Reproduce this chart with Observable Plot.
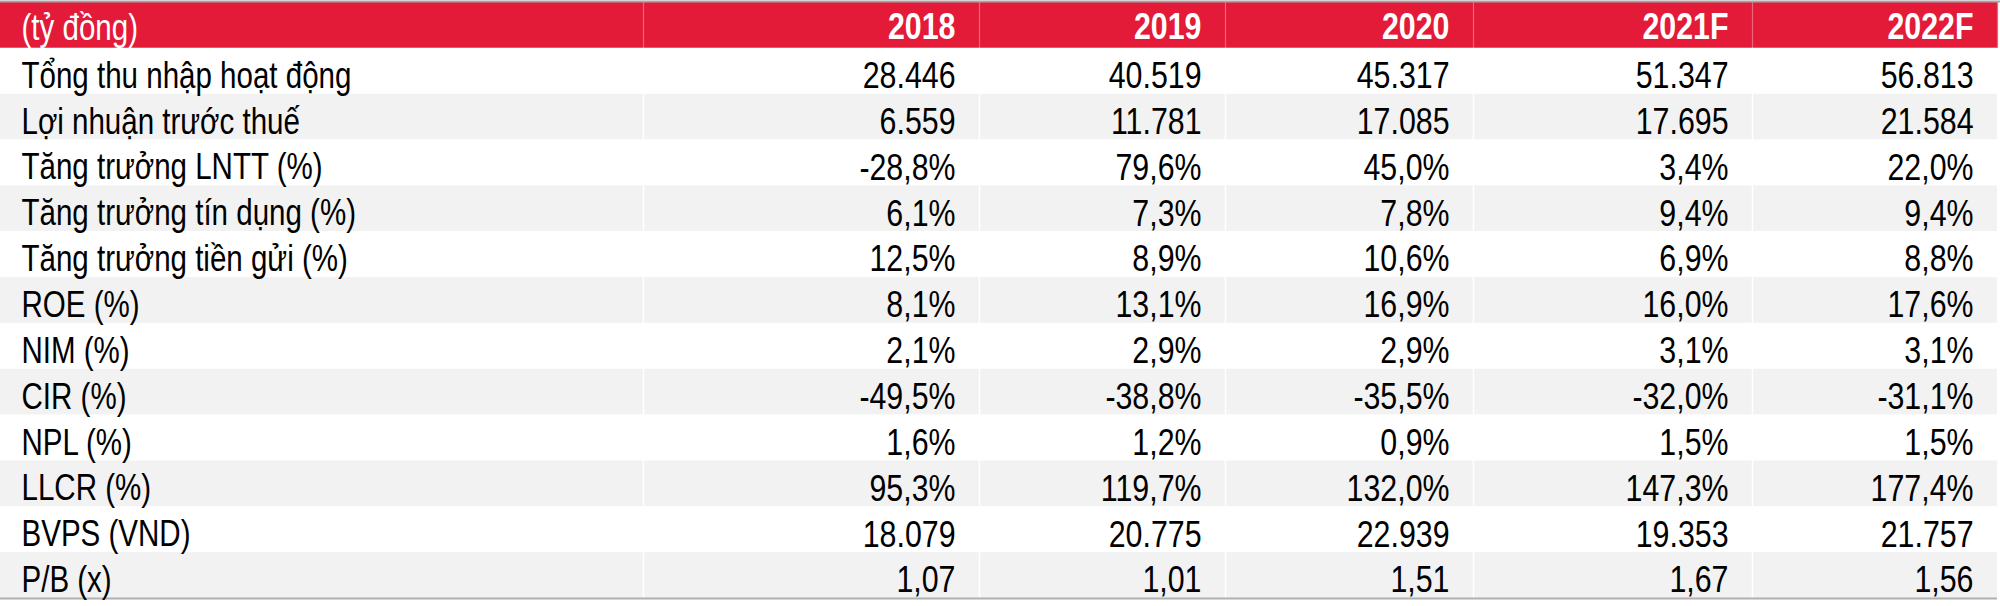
<!DOCTYPE html>
<html>
<head>
<meta charset="utf-8">
<script src="https://cdn.jsdelivr.net/npm/d3@7"></script>
<script src="https://cdn.jsdelivr.net/npm/@observablehq/plot@0.6"></script>
<style>
  html, body { margin: 0; padding: 0; background: #fff; }
  #chart svg { display: block; }
</style>
</head>
<body>
<div id="chart"></div>
<script>
// ---- data ----
const headerLabel = "(tỷ đồng)";
const years = ["2018", "2019", "2020", "2021F", "2022F"];
const rowLabels = [
  "Tổng thu nhập hoạt động",
  "Lợi nhuận trước thuế",
  "Tăng trưởng LNTT (%)",
  "Tăng trưởng tín dụng (%)",
  "Tăng trưởng tiền gửi (%)",
  "ROE (%)",
  "NIM (%)",
  "CIR (%)",
  "NPL (%)",
  "LLCR (%)",
  "BVPS (VND)",
  "P/B (x)"
];
const rowFormats = ["int", "int", "pct", "pct", "pct", "pct", "pct", "pct", "pct", "pct", "int", "x"];
const tongThuNhap = [28446, 40519, 45317, 51347, 56813];
const loiNhuan = [6559, 11781, 17085, 17695, 21584];
const tangTruongLNTT = [-28.8, 79.6, 45.0, 3.4, 22.0];
const tangTruongTinDung = [6.1, 7.3, 7.8, 9.4, 9.4];
const tangTruongTienGui = [12.5, 8.9, 10.6, 6.9, 8.8];
const roe = [8.1, 13.1, 16.9, 16.0, 17.6];
const nim = [2.1, 2.9, 2.9, 3.1, 3.1];
const cir = [-49.5, -38.8, -35.5, -32.0, -31.1];
const npl = [1.6, 1.2, 0.9, 1.5, 1.5];
const llcr = [95.3, 119.7, 132.0, 147.3, 177.4];
const bvps = [18079, 20775, 22939, 19353, 21757];
const pb = [1.07, 1.01, 1.51, 1.67, 1.56];
const series = [tongThuNhap, loiNhuan, tangTruongLNTT, tangTruongTinDung, tangTruongTienGui,
                roe, nim, cir, npl, llcr, bvps, pb];

// ---- layout (column edges in px) ----
const colEdges = [0, 643, 979, 1225, 1473, 1752, 1997];
const W = 2000, H = 606;

// ---- formatting (Vietnamese) ----
const vn = d3.formatLocale({decimal: ",", thousands: ".", grouping: [3], currency: ["", ""], minus: "-"});
const fmt = {
  int: vn.format(",.0f"),
  pct: v => vn.format(".1f")(v) + "%",
  x: vn.format(".2f")
};

// ---- font detection ----
function hasFont(fam) {
  const ctx = document.createElement("canvas").getContext("2d");
  const s = "Tổng thu nhập 0123456789";
  ctx.font = "40px monospace";
  const w0 = ctx.measureText(s).width;
  ctx.font = `40px "${fam}", monospace`;
  return ctx.measureText(s).width !== w0;
}
const narrow = hasFont("Liberation Sans Narrow") ? "Liberation Sans Narrow"
             : hasFont("Arial Narrow") ? "Arial Narrow" : null;
const fontFamily = narrow ? `"${narrow}", sans-serif` : `"Liberation Sans", Arial, sans-serif`;

// ---- tables for marks ----
const rowsBg = rowLabels.map((label, i) => ({label, i: i + 1, fill: i % 2 === 0 ? "#ffffff" : "#f2f2f2"}));
const cells = [];
series.forEach((vals, r) => vals.forEach((v, c) => cells.push({
  r: r + 1, c, text: fmt[rowFormats[r]](v)
})));
const headerCells = years.map((y, c) => ({c, text: y}));
const innerEdges = colEdges.slice(1, -1);

const rightOf = c => colEdges[c + 2] - 24;

const plot = Plot.plot({
  width: W, height: H,
  margin: 0,
  style: {fontFamily, background: "#fff"},
  x: {type: "linear", domain: [0, W], range: [0, W], axis: null},
  y: {type: "linear", domain: [0, 13], range: [2, 598], axis: null},
  marks: [
    // header band
    Plot.rect([0], {x1: colEdges[0], x2: colEdges[colEdges.length - 1], y1: 0, y2: 1, fill: "#e31a38"}),
    // row backgrounds
    Plot.rect(rowsBg, {x1: colEdges[0], x2: colEdges[colEdges.length - 1], y1: d => d.i, y2: d => d.i + 1, fill: "fill"}),
    // column separators
    Plot.ruleX(innerEdges, {y1: 0, y2: 1, stroke: "#ee6478", strokeWidth: 1.2}),
    Plot.ruleX(innerEdges, {y1: 1, y2: 13, stroke: "#ffffff", strokeWidth: 1.5}),
    Plot.ruleX([colEdges[colEdges.length - 1]], {y1: 0, y2: 1, stroke: "#ee6478", strokeWidth: 1.2}),
    // top and bottom borders
    Plot.ruleY([0], {x1: 0, x2: W, stroke: "#a6a6a6", strokeWidth: 2, dy: -1}),
    Plot.ruleY([13], {x1: 0, x2: colEdges[colEdges.length - 1], stroke: "#b0b0b0", strokeWidth: 2, dy: 0}),
    // header texts
    Plot.text([headerLabel], {x: 21, y: 0.5, text: d => d, textAnchor: "start", fill: "#fff", fontSize: 36, dy: 3}),
    Plot.text(headerCells, {x: d => rightOf(d.c), y: 0.5, text: "text", textAnchor: "end", fill: "#fff", fontSize: 37, fontWeight: "bold", dy: 2}),
    // row labels
    Plot.text(rowsBg, {x: 21, y: d => d.i + 0.5, text: "label", textAnchor: "start", fill: "#000", fontSize: 36, dy: 5}),
    // values
    Plot.text(cells, {x: d => rightOf(d.c), y: d => d.r + 0.5, text: "text", textAnchor: "end", fill: "#000", fontSize: 37, dy: 5})
  ]
});

document.getElementById("chart").appendChild(plot);

if (!narrow) {
  plot.querySelectorAll("text").forEach(t => {
    const L = t.getComputedTextLength();
    t.setAttribute("textLength", (L * 0.82).toFixed(1));
    t.setAttribute("lengthAdjust", "spacingAndGlyphs");
  });
}
</script>
</body>
</html>
